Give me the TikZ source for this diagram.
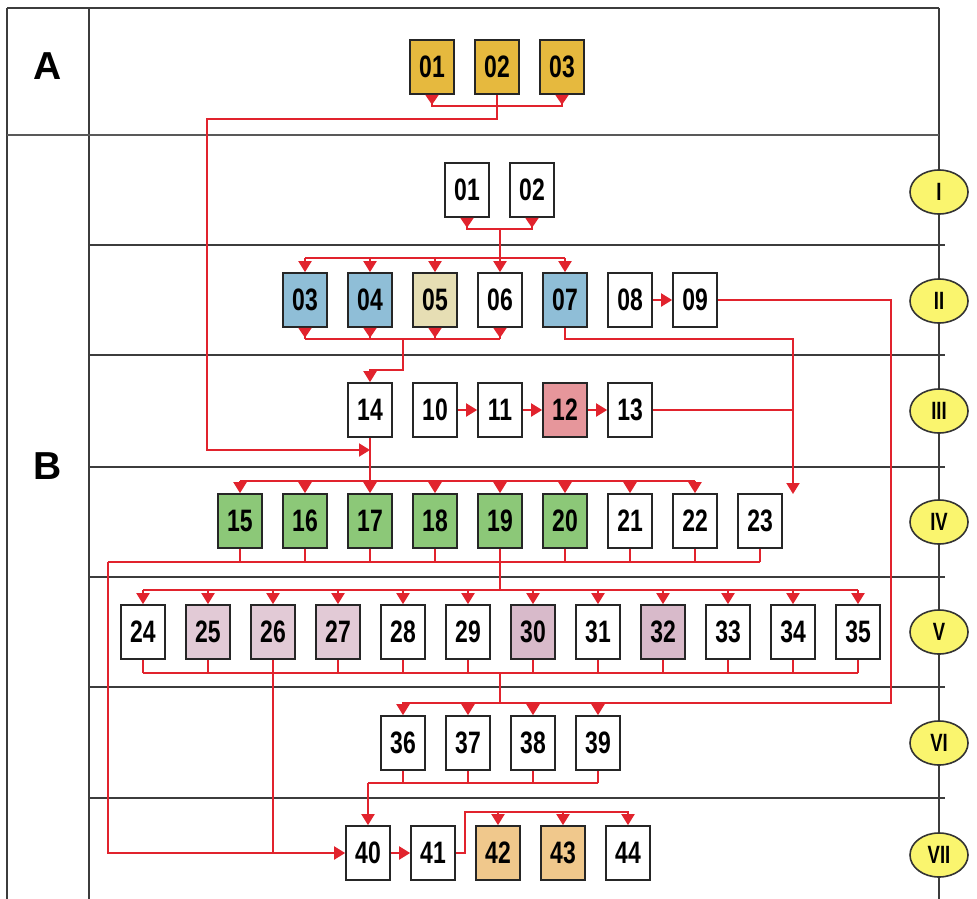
\documentclass[tikz,border=0pt]{standalone}
\usepackage{fontspec}
\setmainfont{Liberation Sans}
\newfontfamily\boxfont{Liberation Sans}[FakeStretch=0.74]
\usetikzlibrary{arrows.meta,shapes.geometric}
\definecolor{linered}{RGB}{225,35,45}
\definecolor{gridgray}{RGB}{60,60,60}
\definecolor{cgold}{RGB}{230,185,62}
\definecolor{cblue}{RGB}{143,190,215}
\definecolor{cbeige}{RGB}{230,222,180}
\definecolor{cred}{RGB}{230,150,155}
\definecolor{cgreen}{RGB}{140,200,120}
\definecolor{cmauve}{RGB}{226,202,214}
\definecolor{cmauvedk}{RGB}{216,186,202}
\definecolor{cpeach}{RGB}{240,200,140}
\definecolor{cyellow}{RGB}{250,245,110}
\tikzset{
  bx/.style={draw=black!85, line width=1.7pt, fill=white, minimum width=44pt, minimum height=54pt, inner sep=0pt,
    font=\boxfont\bfseries\fontsize{31}{31}\selectfont},
  rom/.style={ellipse, draw=black!80, line width=1.6pt, fill=cyellow, minimum width=58pt, minimum height=44pt, inner sep=0pt,
    font=\boxfont\bfseries\fontsize{25}{25}\selectfont},
  big/.style={font=\bfseries\fontsize{39}{39}\selectfont},
  rl/.style={draw=linered, line width=2pt},
  tip/.style={-{Triangle[width=13pt,length=11pt]}},
  rs/.style={{Triangle[width=13pt,length=10pt,reversed]}-},
  rb/.style={{Triangle[width=13pt,length=10pt,reversed]}-{Triangle[width=13pt,length=10pt,reversed]}},
  sep/.style={draw=gridgray, line width=2pt}
}
\begin{document}
\begin{tikzpicture}[x=1pt,y=-1pt]
\useasboundingbox (0,0) rectangle (977,899);
\fill[white] (0,0) rectangle (977,899);
% frame
\draw[sep] (7,8) -- (7,899);
\draw[sep] (89,8) -- (89,899);
\draw[sep, line width=2.6pt] (939,8) -- (939,899);
\draw[sep] (7,8) -- (939,8);
\draw[sep, line width=2.6pt, draw=black!65] (7,135) -- (939,135);
\foreach \yy in {245,355,467,577,687,798} \draw[sep, line width=1.6pt] (89,\yy) -- (945,\yy);
\node[big] (la) at (48,66) {A};
\node[big] (lb) at (48,466) {B};
% roman
\node[rom] (r1) at (939,192) {I};
\node[rom] (r2) at (939,301) {II};
\node[rom] (r3) at (939,411) {III};
\node[rom] (r4) at (939,522) {IV};
\node[rom] (r5) at (939,632) {V};
\node[rom] (r6) at (939,743) {VI};
\node[rom] (r7) at (939,855) {VII};
% A boxes
\node[bx, fill=cgold] (a1) at (432,67) {01};
\node[bx, fill=cgold] (a2) at (497,67) {02};
\node[bx, fill=cgold] (a3) at (562,67) {03};
% row I
\node[bx] (b1) at (467,190) {01};
\node[bx] (b2) at (532,190) {02};
% row II
\node[bx, fill=cblue] (b3) at (305,300) {03};
\node[bx, fill=cblue] (b4) at (370,300) {04};
\node[bx, fill=cbeige] (b5) at (435,300) {05};
\node[bx] (b6) at (500,300) {06};
\node[bx, fill=cblue] (b7) at (565,300) {07};
\node[bx] (b8) at (630,300) {08};
\node[bx] (b9) at (695,300) {09};
% row III
\node[bx] (b14) at (370,410) {14};
\node[bx] (b10) at (435,410) {10};
\node[bx] (b11) at (500,410) {11};
\node[bx, fill=cred] (b12) at (565,410) {12};
\node[bx] (b13) at (630,410) {13};
% row IV
\node[bx, fill=cgreen] (b15) at (240,521) {15};
\node[bx, fill=cgreen] (b16) at (305,521) {16};
\node[bx, fill=cgreen] (b17) at (370,521) {17};
\node[bx, fill=cgreen] (b18) at (435,521) {18};
\node[bx, fill=cgreen] (b19) at (500,521) {19};
\node[bx, fill=cgreen] (b20) at (565,521) {20};
\node[bx] (b21) at (630,521) {21};
\node[bx] (b22) at (695,521) {22};
\node[bx] (b23) at (760,521) {23};
% row V
\node[bx] (b24) at (143,632) {24};
\node[bx, fill=cmauve] (b25) at (208,632) {25};
\node[bx, fill=cmauve] (b26) at (273,632) {26};
\node[bx, fill=cmauve] (b27) at (338,632) {27};
\node[bx] (b28) at (403,632) {28};
\node[bx] (b29) at (468,632) {29};
\node[bx, fill=cmauvedk] (b30) at (533,632) {30};
\node[bx] (b31) at (598,632) {31};
\node[bx, fill=cmauvedk] (b32) at (663,632) {32};
\node[bx] (b33) at (728,632) {33};
\node[bx] (b34) at (793,632) {34};
\node[bx] (b35) at (858,632) {35};
% row VI
\node[bx] (b36) at (403,743) {36};
\node[bx] (b37) at (468,743) {37};
\node[bx] (b38) at (533,743) {38};
\node[bx] (b39) at (598,743) {39};
% row VII
\node[bx] (b40) at (368,853) {40};
\node[bx] (b41) at (433,853) {41};
\node[bx, fill=cpeach] (b42) at (498,853) {42};
\node[bx, fill=cpeach] (b43) at (563,853) {43};
\node[bx] (b44) at (628,853) {44};
% helper coordinates
\coordinate (lt) at (207,119);
\coordinate (lb2) at (207,450);
\coordinate (k23) at (793,494);
\coordinate (r09) at (891,300);
\coordinate (r36) at (891,703);
\coordinate (lv) at (108,562);
\coordinate (lv2) at (108,853);
\coordinate (k41) at (465,853);
\coordinate (k41b) at (465,812);
% A connectors
\draw[rl,rb] (a1.south) -- (a1.south |- 0,106) -- (a3.south |- 0,106) -- (a3.south);
\draw[rl,tip] (a2.south) -- (a2.south |- lt) -- (lt) -- (lb2) -- (b14.south |- lb2);
% row I
\draw[rl,rb] (b1.south) -- (b1.south |- 0,229) -- (b2.south |- 0,229) -- (b2.south);
\draw[rl,tip] (b6.north |- 0,229) -- (b6.north);
% row II top
\draw[rl] (b3.north |- 0,258) -- (b7.north |- 0,258);
\foreach \n in {3,4,5,7} \draw[rl,tip] (b\n.north |- 0,258) -- (b\n.north);
% row II bottom
\foreach \n in {3,4,5,6} \draw[rl,rs] (b\n.south) -- (b\n.south |- 0,339);
\draw[rl] (b3.south |- 0,339) -- (b6.south |- 0,339);
\draw[rl,tip] (403,339) -- (403,370) -- (b14.north |- 0,370) -- (b14.north);
\draw[rl,rs,tip] (b7.south) -- (b7.south |- 0,339) -- (k23 |- 0,339) -- (k23);
\draw[rl,tip] (b8) -- (b9);
\draw[rl,tip] (b9.east) -- (r09) -- (r36) -- (b36.north |- r36) -- (b36.north);
% row III
\draw[rl,tip] (b10) -- (b11);
\draw[rl,tip] (b11) -- (b12);
\draw[rl,tip] (b12) -- (b13);
\draw[rl] (b13.east) -- (k23 |- b13.east);
\draw[rl,tip] (b14.south) -- (b17.north);
% row IV top
\draw[rl] (b15.north |- 0,481) -- (b22.north |- 0,481);
\foreach \n in {15,16,18,19,20,21,22} \draw[rl,tip] (b\n.north |- 0,481) -- (b\n.north);
% row IV bottom
\foreach \n in {15,16,17,18,20,21,22,23} \draw[rl] (b\n.south) -- (b\n.south |- lv);
\draw[rl] (lv) -- (b23.south |- lv);
\draw[rl,tip] (lv) -- (lv2) -- (b40.west);
\draw[rl] (b19.south) -- (b19.south |- 0,590);
% row V top
\draw[rl] (b24.north |- 0,590) -- (b35.north |- 0,590);
\foreach \n in {24,...,35} \draw[rl,tip] (b\n.north |- 0,590) -- (b\n.north);
% row V bottom
\foreach \n in {24,25,27,28,29,30,31,32,33,34,35} \draw[rl] (b\n.south) -- (b\n.south |- 0,673);
\draw[rl] (b24.south |- 0,673) -- (b35.south |- 0,673);
\draw[rl] (b26.south) -- (b26.south |- lv2);
\draw[rl] (500,673) -- (500,703);
% row VI top
\foreach \n in {37,38,39} \draw[rl,tip] (b\n.north |- r36) -- (b\n.north);
% row VI bottom
\foreach \n in {36,37,38,39} \draw[rl] (b\n.south) -- (b\n.south |- 0,783);
\draw[rl] (b40.north |- 0,783) -- (b39.south |- 0,783);
\draw[rl,tip] (b40.north |- 0,783) -- (b40.north);
% row VII
\draw[rl,tip] (b40) -- (b41);
\draw[rl,tip] (b41.east) -- (k41) -- (k41b) -- (b44.north |- k41b) -- (b44.north);
\foreach \n in {42,43} \draw[rl,tip] (b\n.north |- k41b) -- (b\n.north);
\end{tikzpicture}
\end{document}
